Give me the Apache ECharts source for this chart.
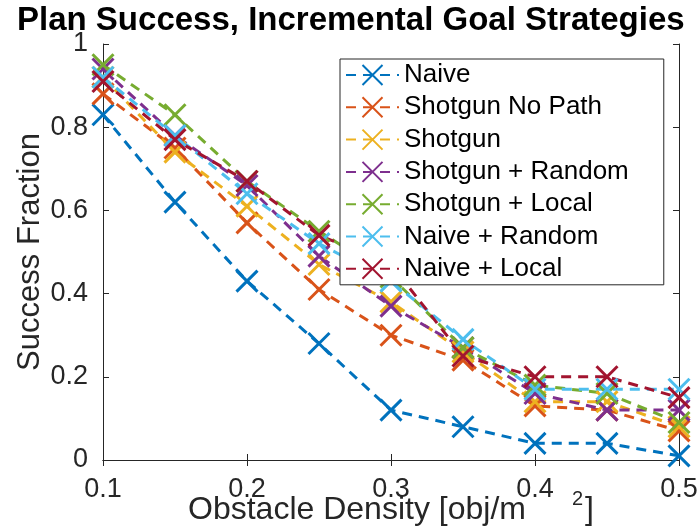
<!DOCTYPE html>
<html>
<head>
<meta charset="utf-8">
<script src="https://cdn.jsdelivr.net/npm/echarts@6/dist/echarts.min.js"></script>
<style>
html,body{margin:0;padding:0;background:#fff;}
#chart{width:698px;height:526px;}
</style>
</head>
<body>
<div id="chart"></div>
<script>
// Data
const density = [0.1, 0.15, 0.2, 0.25, 0.3, 0.35, 0.4, 0.45, 0.5];
const seriesNames = ['Naive', 'Shotgun No Path', 'Shotgun', 'Shotgun + Random', 'Shotgun + Local', 'Naive + Random', 'Naive + Local'];
const naive          = [0.83, 0.62, 0.43, 0.28, 0.12, 0.08, 0.04, 0.04, 0.01];
const shotgunNoPath  = [0.88, 0.75, 0.57, 0.41, 0.30, 0.24, 0.13, 0.12, 0.07];
const shotgun        = [0.92, 0.74, 0.61, 0.47, 0.38, 0.26, 0.14, 0.14, 0.08];
const shotgunRandom  = [0.94, 0.78, 0.66, 0.49, 0.37, 0.27, 0.16, 0.12, 0.12];
const shotgunLocal   = [0.95, 0.83, 0.67, 0.55, 0.44, 0.27, 0.18, 0.16, 0.09];
const naiveRandom    = [0.92, 0.78, 0.64, 0.52, 0.43, 0.29, 0.17, 0.17, 0.17];
const naiveLocal     = [0.91, 0.77, 0.67, 0.54, 0.47, 0.25, 0.20, 0.20, 0.15];
const xTicks = [0.1, 0.2, 0.3, 0.4, 0.5];
const yTicks = [0, 0.2, 0.4, 0.6, 0.8, 1];

const allValues = [naive, shotgunNoPath, shotgun, shotgunRandom, shotgunLocal, naiveRandom, naiveLocal];
const colors = ['#0072BD', '#D95319', '#EDB120', '#7E2F8E', '#77AC30', '#4DBEEE', '#A2142F'];
const FONT = 'Liberation Sans, Arial, Helvetica, sans-serif';
const AX = '#262626';
const xSymbol = 'path://M0,0L10,10M10,0L0,10';

const series = seriesNames.map((name, i) => ({
  name: name,
  type: 'line',
  data: density.map((x, j) => [x, allValues[i][j]]),
  symbol: xSymbol,
  symbolSize: 21,
  showSymbol: true,
  color: colors[i],
  lineStyle: { color: colors[i], width: 3, type: [10, 7] },
  itemStyle: { color: colors[i], borderColor: colors[i], borderWidth: 3 },
  emphasis: { disabled: true },
  animation: false
}));

const chart = echarts.init(document.getElementById('chart'), null, { renderer: 'canvas' });
const fmt = v => {
  const r = Math.round(v * 10) / 10;
  if (r === 0) return '0';
  if (r === 1) return '1';
  return r.toFixed(1);
};
chart.setOption({
  animation: false,
  backgroundColor: '#ffffff',
  title: {
    text: 'Plan Success, Incremental Goal Strategies',
    left: 12,
    top: -1,
    textStyle: { fontFamily: FONT, fontWeight: 'bold', fontSize: 33, color: '#000' }
  },
  grid: { left: 103, right: 19, top: 44, bottom: 66, containLabel: false, outerBoundsMode: 'none' },
  legend: {
    orient: 'vertical',
    left: 340,
    top: 59,
    padding: [3, 35, 3, 5],
    itemGap: 6.3,
    itemWidth: 53,
    itemHeight: 25,
    backgroundColor: '#ffffff',
    borderColor: AX,
    borderWidth: 1,
    borderRadius: 0,
    data: seriesNames,
    textStyle: { fontFamily: FONT, fontSize: 26, color: '#000' }
  },
  xAxis: [{
    type: 'value',
    min: xTicks[0],
    max: xTicks[xTicks.length - 1],
    interval: 0.1,
    name: 'Obstacle Density [obj/m{sup|2}]',
    nameLocation: 'middle',
    nameGap: 29,
    nameMoveOverlap: false,
    nameTextStyle: {
      fontFamily: FONT, fontSize: 32, color: AX,
      rich: { sup: { fontFamily: FONT, fontSize: 20, color: AX, verticalAlign: 'top', padding: [0, 2, 22, 46] } }
    },
    axisLine: { show: true, lineStyle: { color: AX, width: 1 } },
    axisTick: { show: true, inside: true, length: 6, lineStyle: { color: AX } },
    axisLabel: { fontFamily: FONT, fontSize: 27, color: AX, margin: 16, formatter: fmt },
    splitLine: { show: false }
  }, {
    type: 'value',
    position: 'top',
    min: xTicks[0],
    max: xTicks[xTicks.length - 1],
    interval: 0.1,
    axisLine: { show: true, lineStyle: { color: AX, width: 1 } },
    axisTick: { show: true, inside: true, length: 6, lineStyle: { color: AX } },
    axisLabel: { show: false },
    splitLine: { show: false }
  }],
  yAxis: [{
    type: 'value',
    min: yTicks[0],
    max: yTicks[yTicks.length - 1],
    interval: 0.2,
    name: 'Success Fraction',
    nameLocation: 'middle',
    nameGap: 57,
    nameMoveOverlap: false,
    nameTextStyle: { fontFamily: FONT, fontSize: 31, color: AX },
    axisLine: { show: true, lineStyle: { color: AX, width: 1 } },
    axisTick: { show: true, inside: true, length: 6, lineStyle: { color: AX } },
    axisLabel: { fontFamily: FONT, fontSize: 27, color: AX, margin: 15, formatter: fmt },
    splitLine: { show: false }
  }, {
    type: 'value',
    position: 'right',
    min: yTicks[0],
    max: yTicks[yTicks.length - 1],
    interval: 0.2,
    axisLine: { show: true, lineStyle: { color: AX, width: 1 } },
    axisTick: { show: true, inside: true, length: 6, lineStyle: { color: AX } },
    axisLabel: { show: false },
    splitLine: { show: false }
  }],
  series: series
});
</script>
</body>
</html>
